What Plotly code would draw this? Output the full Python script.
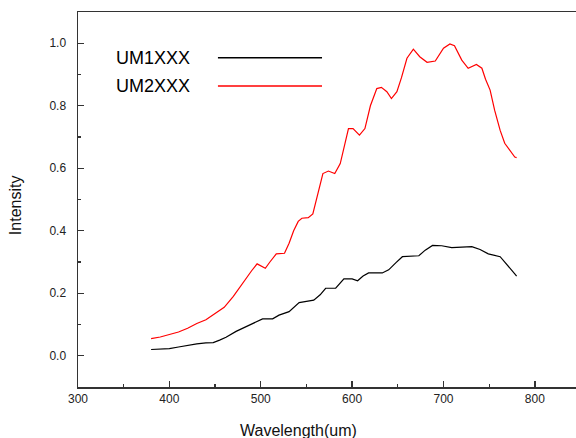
import plotly.graph_objects as go

# ---- data ----
um1_wavelength = [380, 390, 400, 410, 420, 430, 440, 448, 455, 462, 473, 488, 502, 513, 520, 531,
                  538, 542, 550, 558, 565, 571, 582, 591, 600, 606, 612, 618, 633, 640, 648, 655,
                  673, 680, 688, 698, 709, 720, 731, 740, 749, 762, 771, 778, 780]
um1_intensity = [0.020, 0.021, 0.023, 0.028, 0.034, 0.038, 0.041, 0.042, 0.050, 0.059, 0.078, 0.099,
                 0.118, 0.118, 0.130, 0.141, 0.160, 0.170, 0.174, 0.178, 0.195, 0.216, 0.216, 0.246,
                 0.246, 0.240, 0.255, 0.265, 0.265, 0.275, 0.298, 0.317, 0.320, 0.338, 0.353, 0.352,
                 0.346, 0.348, 0.349, 0.340, 0.326, 0.317, 0.288, 0.262, 0.255]

um2_wavelength = [380, 390, 400, 410, 420, 430, 440, 450, 460, 470, 480, 490, 496, 500, 505, 510,
                  517, 526, 531, 536, 541, 545, 552, 557, 563, 568, 574, 581, 587, 592, 596, 601,
                  608, 614, 620, 627, 632, 638, 643, 649, 654, 660, 667, 674, 682, 691, 700, 707,
                  712, 720, 727, 736, 742, 746, 751, 756, 762, 767, 773, 778, 780]
um2_intensity = [0.055, 0.060, 0.068, 0.076, 0.088, 0.103, 0.115, 0.135, 0.155, 0.190, 0.232, 0.272,
                 0.294, 0.288, 0.280, 0.300, 0.326, 0.328, 0.360, 0.400, 0.430, 0.440, 0.442, 0.454,
                 0.530, 0.583, 0.591, 0.583, 0.615, 0.680, 0.727, 0.727, 0.706, 0.727, 0.800, 0.855,
                 0.859, 0.845, 0.823, 0.845, 0.890, 0.952, 0.981, 0.957, 0.939, 0.943, 0.984, 0.998,
                 0.992, 0.946, 0.920, 0.932, 0.920, 0.885, 0.850, 0.785, 0.721, 0.680, 0.657, 0.636,
                 0.634]

series_names = ["UM1XXX", "UM2XXX"]
series_colors = ["#000000", "#ff0000"]

x_title = "Wavelength(um)"
y_title = "Intensity"

FONT = "Arial, Liberation Sans, sans-serif"

fig = go.Figure()
fig.add_trace(go.Scatter(x=um1_wavelength, y=um1_intensity, mode="lines", name=series_names[0],
                         line=dict(color=series_colors[0], width=1.2), showlegend=False))
fig.add_trace(go.Scatter(x=um2_wavelength, y=um2_intensity, mode="lines", name=series_names[1],
                         line=dict(color=series_colors[1], width=1.2), showlegend=False))

# custom legend: text on the left, line sample on the right
legend_y = [0.878, 0.8025]
for name, color, ly in zip(series_names, series_colors, legend_y):
    fig.add_annotation(x=0.072, y=ly, xref="paper", yref="paper", text=name, showarrow=False,
                       xanchor="left", yanchor="middle", font=dict(family=FONT, size=18, color="#000"))
    fig.add_shape(type="line", xref="paper", yref="paper", x0=0.281, x1=0.49, y0=ly, y1=ly,
                  line=dict(color=color, width=1.5))

# axis titles
fig.add_annotation(x=0.442, y=-0.116, xref="paper", yref="paper", text=x_title, showarrow=False,
                   xanchor="center", yanchor="middle", font=dict(family=FONT, size=16, color="#111"))
fig.add_annotation(x=-0.1265, y=0.485, xref="paper", yref="paper", text=y_title, showarrow=False,
                   textangle=-90, xanchor="center", yanchor="middle",
                   font=dict(family=FONT, size=16, color="#111"))

fig.update_xaxes(range=[300, 845], dtick=100, tick0=300, ticks="inside", ticklen=6, tickwidth=1.3,
                 tickcolor="#333", showline=True, linecolor="#333", linewidth=1.5, mirror=True,
                 showgrid=False, zeroline=False, automargin=False,
                 tickfont=dict(family=FONT, size=12, color="#222"),
                 minor=dict(dtick=50, ticks="inside", ticklen=3, tickwidth=1.2, tickcolor="#333"))
fig.update_yaxes(range=[-0.1, 1.1], dtick=0.2, tick0=0, tickformat=".1f", ticks="inside", ticklen=6,
                 tickwidth=1.3, tickcolor="#333", showline=True, linecolor="#333", linewidth=1.5,
                 mirror=False, showgrid=False, zeroline=False, ticklabelstandoff=8, automargin=False,
                 tickfont=dict(family=FONT, size=12, color="#222"),
                 minor=dict(dtick=0.1, ticks="inside", ticklen=3, tickwidth=1.2, tickcolor="#333"))

fig.update_layout(template="none", width=576, height=438, margin=dict(l=78, r=0, t=12, b=51),
                  plot_bgcolor="white", paper_bgcolor="white", showlegend=False)

fig.write_html("out.html", config={"displayModeBar": False, "staticPlot": True},
               post_script="document.body.style.margin='0';document.body.style.overflow='hidden';")
